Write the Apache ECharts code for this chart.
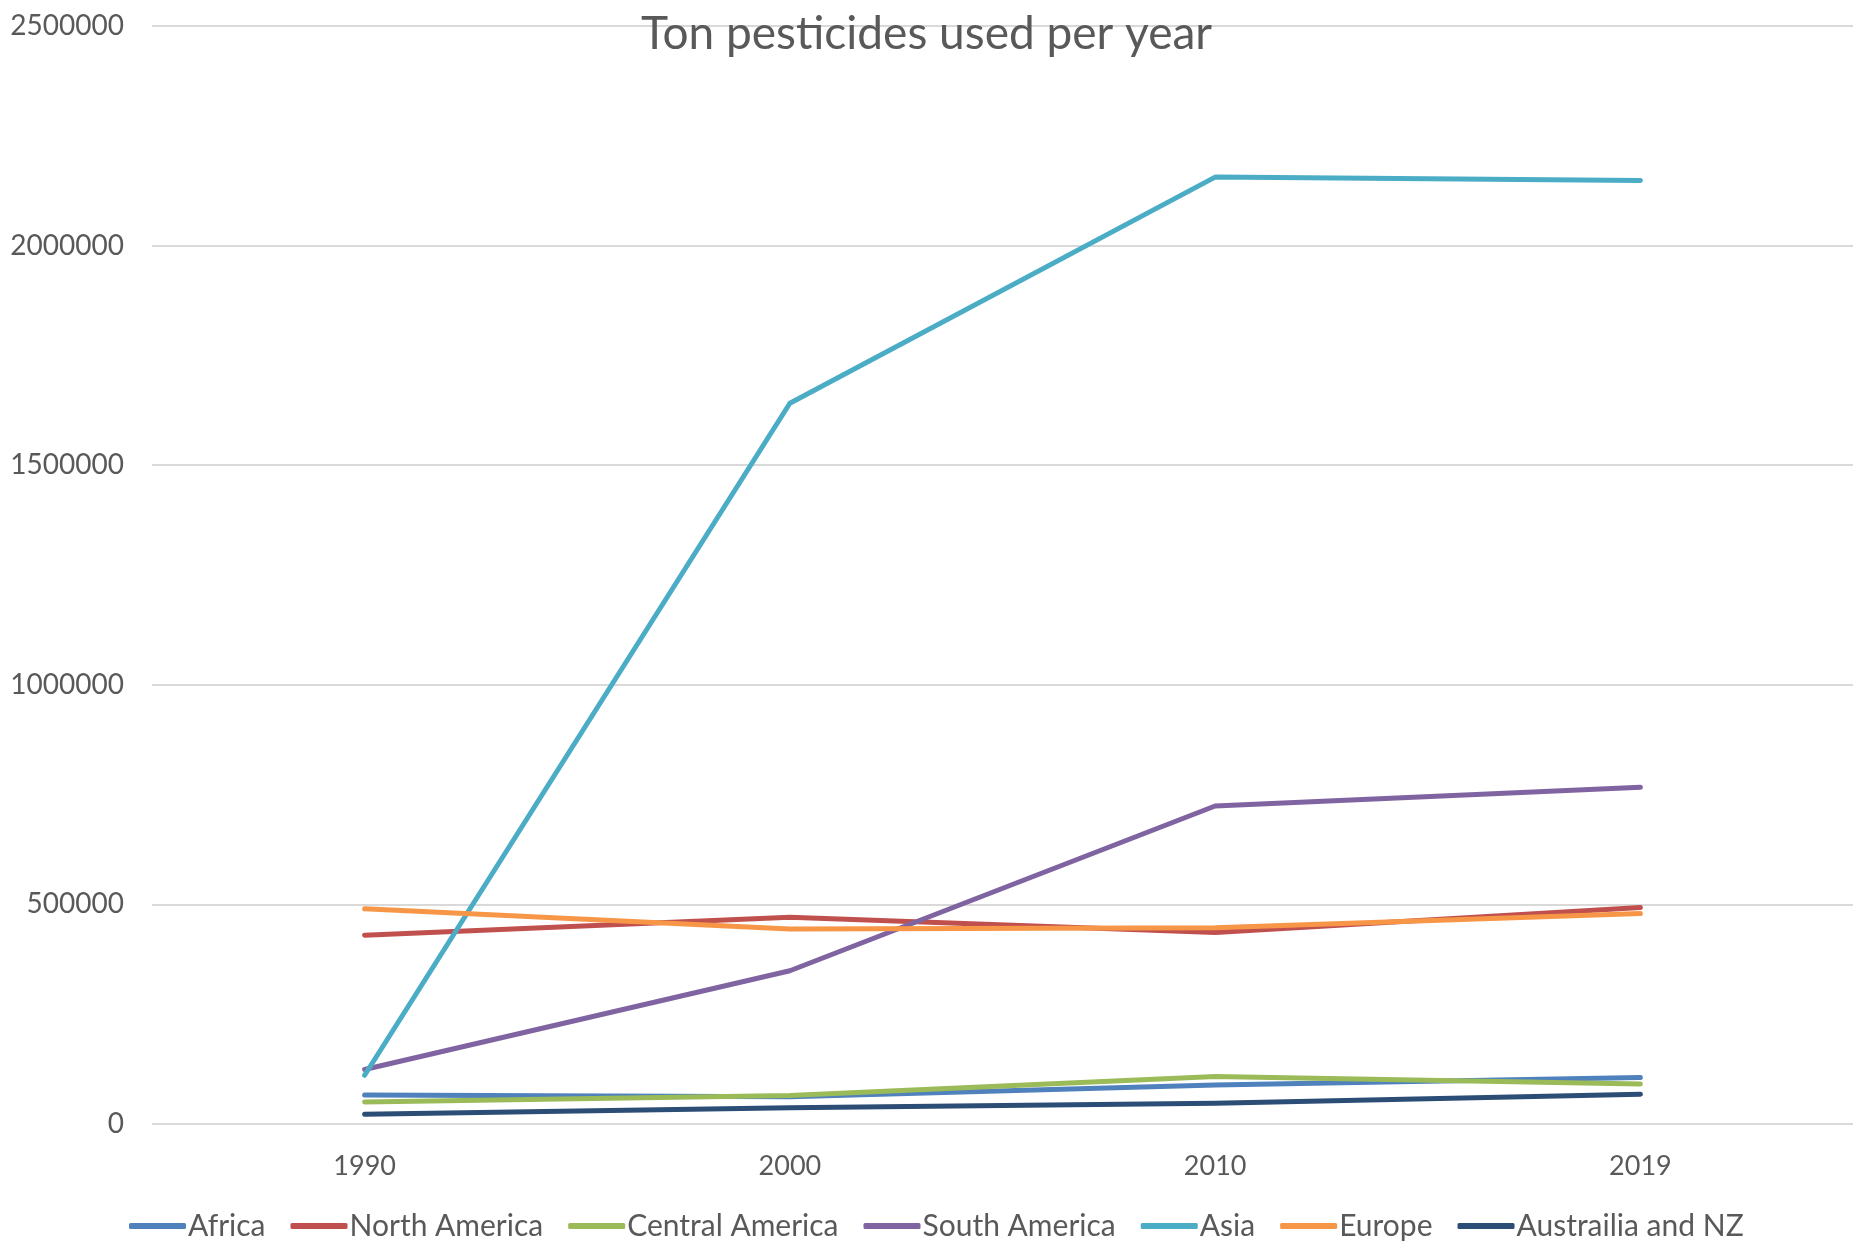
<!DOCTYPE html>
<html>
<head>
<meta charset="utf-8">
<title>Ton pesticides used per year</title>
<script src="https://cdn.jsdelivr.net/npm/echarts@6/dist/echarts.min.js"></script>
<style>
  html, body { margin: 0; padding: 0; background: #ffffff; }
  #chart { width: 1853px; height: 1242px; }
</style>
</head>
<body>
<div id="chart"></div>
<script>
// Years on the category axis
const years = ['1990', '2000', '2010', '2019'];

// Tonnes of pesticides used, per region
const africa          = [66000, 62000, 89000, 106000];
const northAmerica    = [430000, 471000, 436000, 493000];
const centralAmerica  = [50000, 65000, 108000, 91000];
const southAmerica    = [124000, 349000, 724000, 767000];
const asia            = [111000, 1641000, 2156000, 2148000];
const europe          = [490000, 444000, 447000, 479000];
const australiaNZ     = [22000, 37000, 47000, 68000];

const regionNames = ['Africa', 'North America', 'Central America', 'South America', 'Asia', 'Europe', 'Austrailia and NZ'];
const regionValues = [africa, northAmerica, centralAmerica, southAmerica, asia, europe, australiaNZ];
const regionColors = ['#4F81BD', '#C0504D', '#9BBB59', '#8064A2', '#4BACC6', '#F79646', '#2C4D75'];

const FONT = 'Lato, "Open Sans", sans-serif';
const TEXT = '#595959';

const chart = echarts.init(document.getElementById('chart'));

chart.setOption({
  backgroundColor: '#ffffff',
  animation: false,
  title: {
    text: 'Ton pesticides used per year',
    left: 'center',
    top: 6,
    textStyle: { fontFamily: FONT, fontSize: 46, fontWeight: 'normal', color: TEXT }
  },
  legend: {
    top: 1206,
    left: 124,
    icon: 'roundRect',
    itemWidth: 57,
    itemHeight: 6,
    itemGap: 25,
    textStyle: { fontFamily: FONT, fontSize: 30, color: TEXT, padding: [0, 0, 0, -3] },
    data: regionNames
  },
  grid: { left: 152, right: 0, top: 26, bottom: 118 },
  xAxis: {
    type: 'category',
    data: years,
    boundaryGap: true,
    axisLine: { show: false },
    axisTick: { show: false },
    axisLabel: { fontFamily: FONT, fontSize: 27, color: TEXT, margin: 29 }
  },
  yAxis: {
    type: 'value',
    min: 0,
    max: 2500000,
    interval: 500000,
    axisLine: { show: false },
    axisTick: { show: false },
    axisLabel: {
      fontFamily: FONT, fontSize: 28, color: TEXT, margin: 28,
      formatter: (v) => String(v)
    },
    splitLine: { lineStyle: { color: '#D9D9D9', width: 2 } }
  },
  series: regionNames.map((name, i) => ({
    name: name,
    type: 'line',
    data: regionValues[i],
    symbol: 'none',
    color: regionColors[i],
    lineStyle: { width: 5, cap: 'round', join: 'round', color: regionColors[i] }
  }))
});
</script>
</body>
</html>
